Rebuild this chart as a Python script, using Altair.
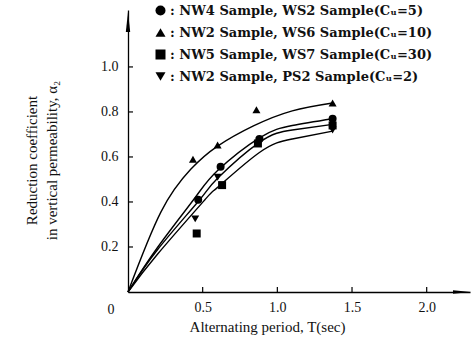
import altair as alt
import pandas as pd

# ---- data ----
series = [
    "NW4 Sample, WS2 Sample(Cᵤ=5)",
    "NW2 Sample, WS6 Sample(Cᵤ=10)",
    "NW5 Sample, WS7 Sample(Cᵤ=30)",
    "NW2 Sample, PS2 Sample(Cᵤ=2)",
]
shapes = ["circle", "triangle-up", "square", "triangle-down"]

# measured points
t_cu5 = [0.47, 0.62, 0.88, 1.37]
a_cu5 = [0.41, 0.556, 0.68, 0.77]
t_cu10 = [0.435, 0.60, 0.86, 1.37]
a_cu10 = [0.59, 0.653, 0.81, 0.84]
t_cu30 = [0.46, 0.63, 0.87, 1.37]
a_cu30 = [0.26, 0.475, 0.66, 0.74]
t_cu2 = [0.45, 0.60, 0.88, 1.37]
a_cu2 = [0.325, 0.51, 0.67, 0.72]

# fitted curves
ct_cu10 = [0, 0.22, 0.42, 0.6, 0.84, 1.1, 1.37]
ca_cu10 = [0, 0.355, 0.545, 0.648, 0.738, 0.805, 0.84]
ct_cu5 = [0, 0.2, 0.45, 0.6, 0.88, 1.1, 1.37]
ca_cu5 = [0, 0.2, 0.42, 0.54, 0.685, 0.74, 0.77]
ct_cu2 = [0, 0.2, 0.48, 0.6, 0.88, 1.1, 1.37]
ca_cu2 = [0, 0.19, 0.41, 0.505, 0.665, 0.72, 0.745]
ct_cu30 = [0, 0.2, 0.515, 0.6, 0.88, 1.1, 1.37]
ca_cu30 = [0, 0.17, 0.41, 0.465, 0.62, 0.68, 0.715]

x_ticks = [0.5, 1.0, 1.5, 2.0]
y_ticks = [0.2, 0.4, 0.6, 0.8, 1.0]

# ---- tables ----
pts = pd.concat([
    pd.DataFrame({"T": t_cu5, "a": a_cu5, "s": series[0]}),
    pd.DataFrame({"T": t_cu10, "a": a_cu10, "s": series[1]}),
    pd.DataFrame({"T": t_cu30, "a": a_cu30, "s": series[2]}),
    pd.DataFrame({"T": t_cu2, "a": a_cu2, "s": series[3]}),
])
curves = pd.concat([
    pd.DataFrame({"T": ct_cu5, "a": ca_cu5, "c": "cu5"}),
    pd.DataFrame({"T": ct_cu10, "a": ca_cu10, "c": "cu10"}),
    pd.DataFrame({"T": ct_cu30, "a": ca_cu30, "c": "cu30"}),
    pd.DataFrame({"T": ct_cu2, "a": ca_cu2, "c": "cu2"}),
])
xt = pd.DataFrame({"v": x_ticks})
yt = pd.DataFrame({"v": y_ticks})

W, H = 342, 282
XD = [0, 2.29]
YD = [0, 1.253]
SERIF = "'Liberation Serif', 'DejaVu Serif', 'Times New Roman', serif"
SERIF_B = "'DejaVu Serif', 'Liberation Serif', serif"

xs = alt.Scale(domain=XD, nice=False, zero=False)
ys = alt.Scale(domain=YD, nice=False, zero=False)

x_axis = alt.Axis(values=x_ticks, format=".1f", ticks=False, grid=False,
                  domainColor="black", domainWidth=1.3,
                  labelFont=SERIF, labelFontSize=14, labelColor="#111",
                  labelPadding=8,
                  title="Alternating period, T(sec)", titleFont=SERIF,
                  titleFontSize=15, titleFontWeight="normal", titleColor="#111",
                  titleX=139, titleY=34, titleBaseline="middle", titleAnchor="middle")
y_axis = alt.Axis(values=y_ticks, format=".1f", ticks=False, grid=False,
                  domainColor="black", domainWidth=1.3,
                  labelFont=SERIF, labelFontSize=14, labelColor="#111",
                  labelPadding=10,
                  title=["Reduction coefficient", "in vertical permeability, α₂"],
                  titleFont=SERIF, titleFontSize=15, titleFontWeight="normal",
                  titleColor="#111", titleLineHeight=20,
                  titleX=-97, titleY=150, titleAngle=270, titleBaseline="middle",
                  titleAlign="center")

base_x = alt.X("T:Q", scale=xs, axis=x_axis)
base_y = alt.Y("a:Q", scale=ys, axis=y_axis)

lines = alt.Chart(curves).mark_line(color="black", strokeWidth=1.4,
                                    interpolate="natural").encode(
    x=base_x, y=base_y, detail="c:N")

points = alt.Chart(pts).mark_point(filled=True, color="black", opacity=1,
                                   size=64).encode(
    x=alt.X("T:Q", scale=xs),
    y=alt.Y("a:Q", scale=ys),
    shape=alt.Shape("s:N", scale=alt.Scale(domain=series, range=shapes),
                    sort=series,
                    legend=alt.Legend(orient="none", legendX=26, legendY=-6,
                                      title=None, padding=0,
                                      labelFont=SERIF_B, labelFontSize=13,
                                      labelFontWeight="bold", labelColor="#111",
                                      labelOffset=3, labelLimit=400,
                                      symbolSize=100, symbolFillColor="black",
                                      symbolStrokeColor="black",
                                      symbolStrokeWidth=0, rowPadding=8,
                                      labelExpr="': ' + datum.label")),
)

xtick = alt.Chart(xt).mark_rule(color="black", strokeWidth=1.2).encode(
    x=alt.X("v:Q", scale=xs), y=alt.value(H), y2=alt.value(H - 5))
ytick = alt.Chart(yt).mark_rule(color="black", strokeWidth=1.2).encode(
    y=alt.Y("v:Q", scale=ys), x=alt.value(0), x2=alt.value(5))

arrow_y = alt.Chart(pd.DataFrame({"k": [0]})).mark_point(
    shape="M0,-1L0.22,1L-0.22,1Z", filled=True, color="black", opacity=1,
    size=400).encode(x=alt.value(0), y=alt.value(12))
arrow_x = alt.Chart(pd.DataFrame({"k": [0]})).mark_point(
    shape="M1,0L-1,0.2L-1,-0.2Z", filled=True, color="black", opacity=1,
    size=324).encode(x=alt.value(W - 8), y=alt.value(H))

origin = alt.Chart(pd.DataFrame({"T": [0], "a": [0]})).mark_text(
    text="0", font=SERIF, fontSize=14, color="#111", dx=-17, dy=18).encode(
    x=alt.X("T:Q", scale=xs), y=alt.Y("a:Q", scale=ys))

chart = alt.layer(lines, points, xtick, ytick, arrow_y, arrow_x, origin).properties(
    width=W, height=H,
    autosize=alt.AutoSizeParams(type="none"),
    padding={"left": 128, "top": 10, "right": 6, "bottom": 48},
    background="white",
).configure_view(stroke=None).configure_axis(domainCap="butt")

chart.save("out.html", embed_options={"renderer": "svg", "actions": False})
